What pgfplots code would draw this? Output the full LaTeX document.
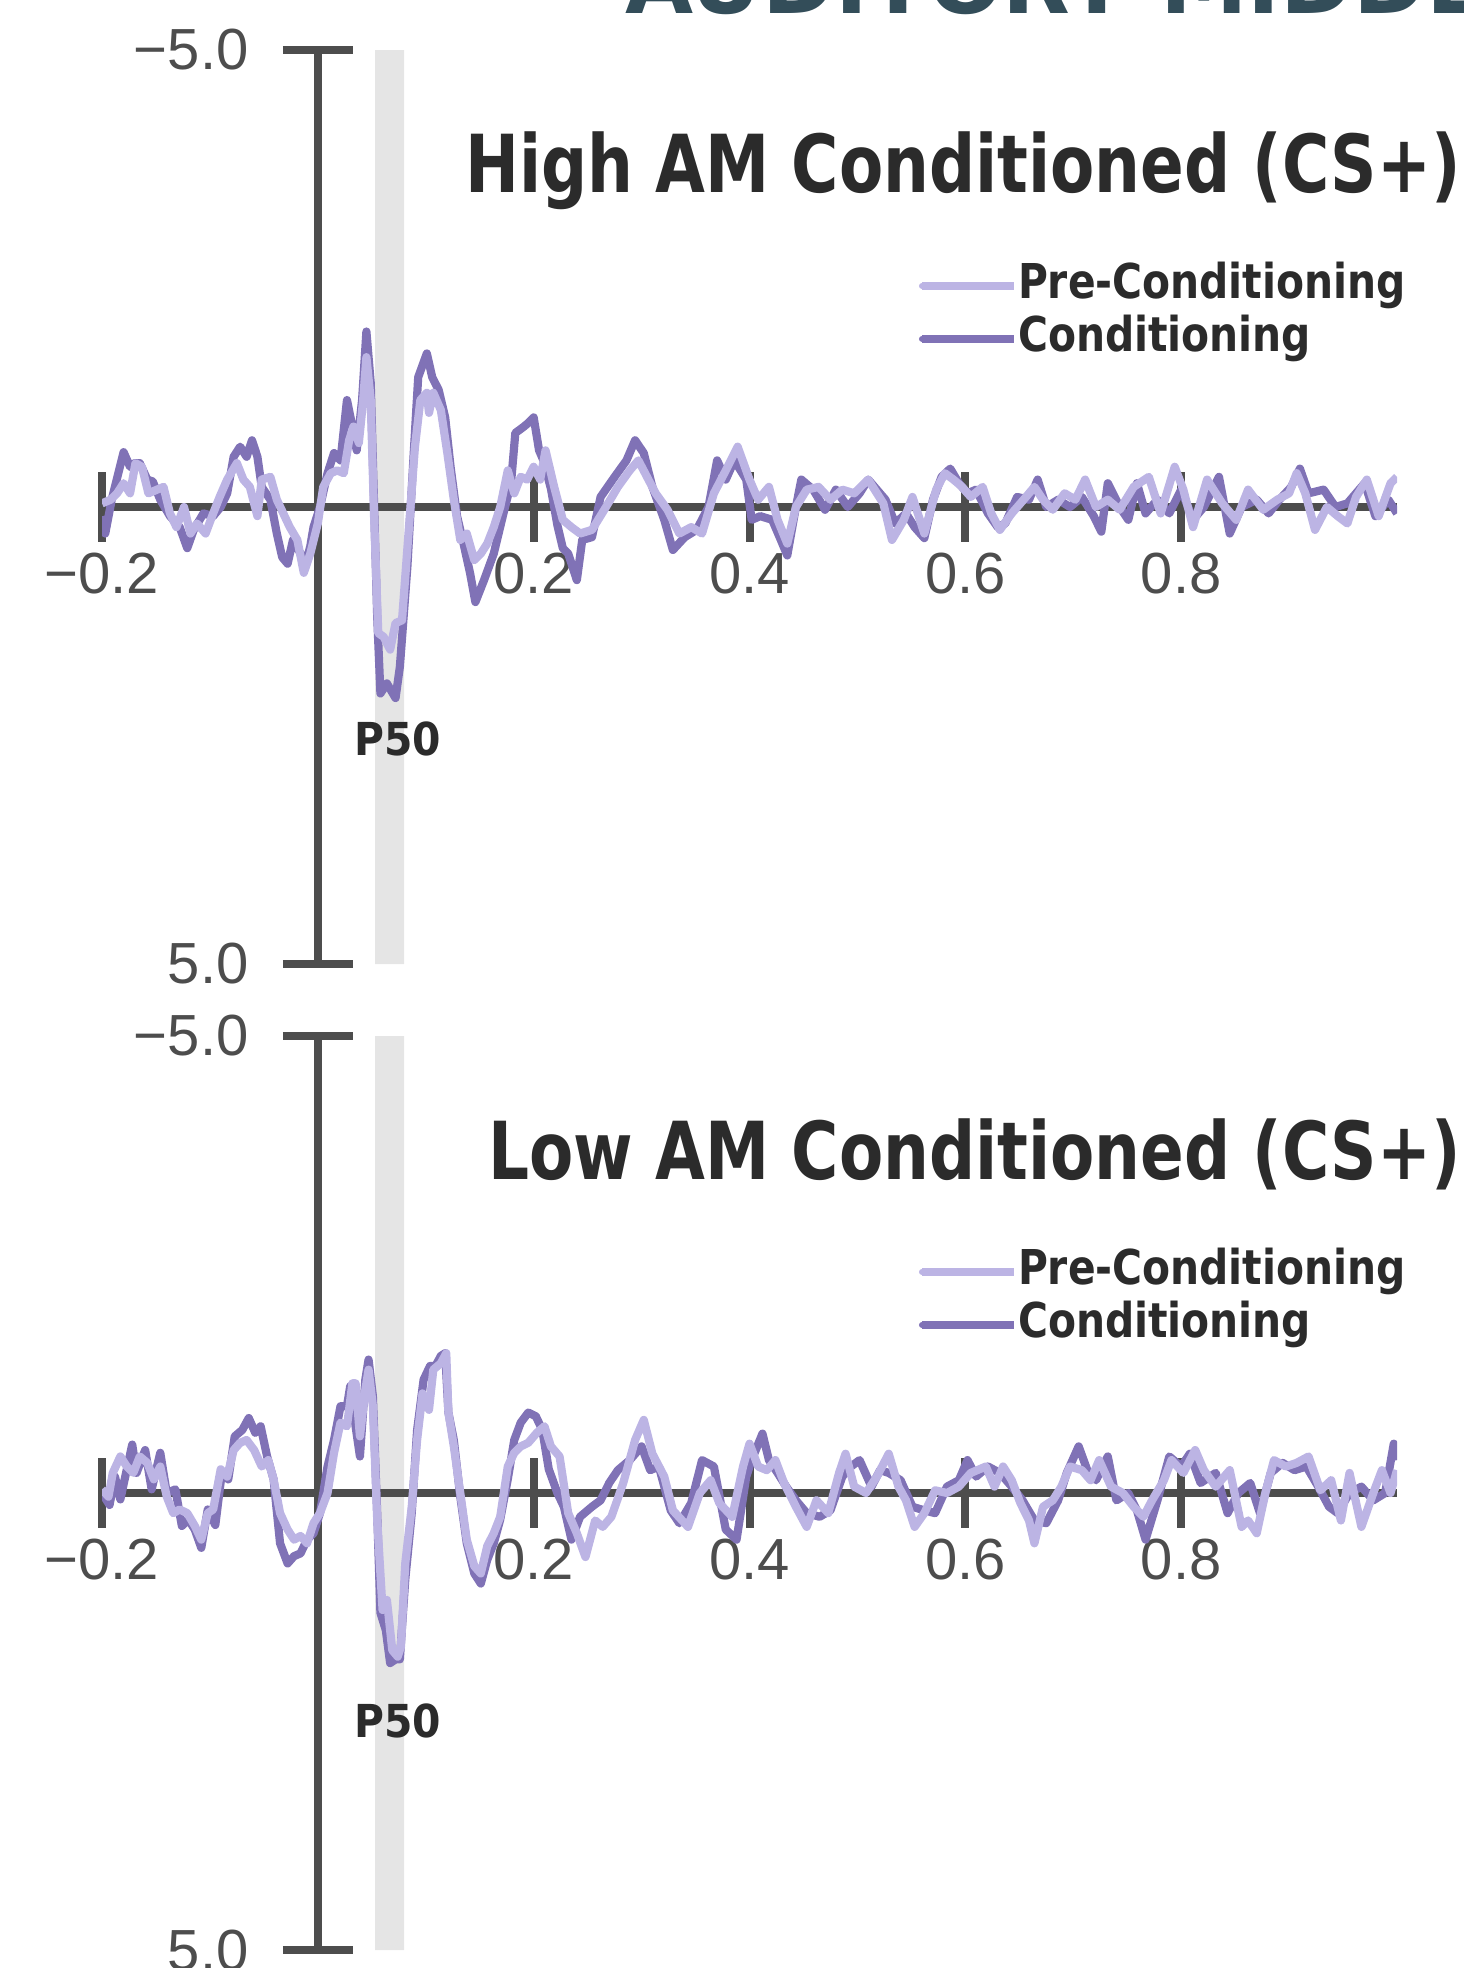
\documentclass[border=0pt]{standalone}
\usepackage{fontspec}
\setmainfont{Liberation Sans}
\newfontfamily\condb{DejaVu Sans Condensed}
\newfontfamily\dvb{DejaVu Sans}
\usepackage{pgfplots}
\pgfplotsset{compat=1.18}
\definecolor{axgray}{RGB}{77,77,77}
\definecolor{txt}{RGB}{43,43,43}
\definecolor{bandc}{RGB}{229,229,229}
\definecolor{pre}{RGB}{188,180,228}
\definecolor{cond}{RGB}{128,114,182}
\definecolor{slate}{RGB}{51,77,89}
\pgfplotsset{
  geom/.style={
    scale only axis, width=647.5pt, height=457pt,
    xmin=-0.2, xmax=1.0, ymin=-5, ymax=5, y dir=reverse,
  },
  erpaxis/.style={
    geom,
    axis lines=middle,
    axis line style={-, line width=4pt, draw=axgray},
    xtick={-0.2,0.2,0.4,0.6,0.8},
    xticklabels={−0.2,0.2,0.4,0.6,0.8},
    ytick={-5,5}, yticklabels={−5.0,5.0},
    tick align=center, major tick length=35pt,
    tick style={line width=4pt, draw=axgray},
    ticklabel style={font=\fontsize{29}{30}\selectfont, text=axgray, inner sep=0pt},
    xticklabel style={anchor=center, yshift=-16pt},
    yticklabel style={anchor=east, xshift=-17pt},
    legend style={draw=none, fill=none, at={(axis cs:0.556,-2.66)}, anchor=north west,
      inner sep=0pt, outer sep=0pt, row sep=4.5pt,
      font=\condb\bfseries\fontsize{24}{26}\selectfont, text=txt,
      nodes={inner sep=0pt, text height=17.5pt, text depth=4.5pt}},
    legend cell align=left,
    legend image code/.code={\draw[#1, line width=3pt, line cap=round] (0pt,0pt) -- (41pt,0pt); \path (0pt,0pt) -- (46pt,0pt);},
    every axis plot/.append style={line width=4.1pt, line join=round},
  }
}
\newcommand{\lgtxt}[1]{\scalebox{0.945}[1]{#1}}
\begin{document}
\begin{tikzpicture}
% main title (cut off at top)
\node[anchor=base west, inner sep=0pt, text=slate, font=\dvb\bfseries\fontsize{44}{48}\selectfont] at (312.5pt,-7pt) {AUDITORY MIDDLE LATENCY};

% ---------------- top panel ----------------
\begin{axis}[geom, hide axis, at={(51pt,-25pt)}, anchor=north west]
\addplot[draw=none, fill=bandc] coordinates {(0.053,-5) (0.08,-5) (0.08,5) (0.053,5) (0.053,-5)};
\end{axis}
\begin{axis}[erpaxis, at={(51pt,-25pt)}, anchor=north west]
\addlegendimage{pre}\addlegendentry{\lgtxt{Pre-Conditioning}}
\addlegendimage{cond}\addlegendentry{\lgtxt{Conditioning}}
\addplot[cond, forget plot] coordinates {
(-0.2,0.1) (-0.197,0.29) (-0.191,-0.08) (-0.18,-0.6) (-0.174,-0.44) (-0.17,-0.48) (-0.165,-0.48) (-0.158,-0.3) (-0.153,-0.28) (-0.146,-0.08) (-0.137,0.1) (-0.128,0.22) (-0.121,0.45) (-0.115,0.25) (-0.106,0.07) (-0.097,0.1) (-0.09,0) (-0.084,-0.15) (-0.078,-0.55) (-0.072,-0.66) (-0.066,-0.55) (-0.061,-0.73) (-0.056,-0.55) (-0.052,-0.22) (-0.044,-0.08) (-0.038,0.29) (-0.033,0.55) (-0.028,0.62) (-0.023,0.36) (-0.016,0.51) (-0.012,0.65) (-0.007,0.43) (-0.004,0.22) (0.002,0) (0.009,-0.37) (0.015,-0.59) (0.021,-0.51) (0.027,-1.17) (0.032,-0.88) (0.036,-0.62) (0.041,-1.17) (0.045,-1.92) (0.049,-1.36) (0.052,-0.08) (0.055,1.2) (0.058,2.04) (0.064,1.93) (0.072,2.09) (0.076,1.75) (0.083,0.65) (0.089,-0.62) (0.093,-1.42) (0.101,-1.68) (0.106,-1.42) (0.112,-1.28) (0.118,-0.98) (0.123,-0.44) (0.129,0.1) (0.135,0.4) (0.141,0.72) (0.146,1.04) (0.154,0.8) (0.163,0.51) (0.172,0.07) (0.179,-0.26) (0.183,-0.81) (0.191,-0.88) (0.195,-0.92) (0.2,-0.98) (0.205,-0.62) (0.209,-0.51) (0.216,-0.2) (0.222,0.2) (0.227,0.45) (0.232,0.51) (0.24,0.8) (0.245,0.36) (0.254,0.33) (0.262,-0.11) (0.275,-0.33) (0.286,-0.51) (0.294,-0.73) (0.302,-0.59) (0.31,-0.22) (0.321,0.14) (0.329,0.47) (0.34,0.33) (0.351,0.25) (0.362,0) (0.37,-0.51) (0.378,-0.3) (0.386,-0.51) (0.397,-0.3) (0.402,0.14) (0.41,0.1) (0.421,0.14) (0.429,0.36) (0.435,0.53) (0.443,0) (0.448,-0.3) (0.459,-0.19) (0.47,0.03) (0.48,-0.19) (0.491,0) (0.502,-0.15) (0.51,-0.3) (0.518,-0.19) (0.526,-0.08) (0.535,0.18) (0.545,0.07) (0.553,0.22) (0.562,0.34) (0.57,-0.08) (0.578,-0.33) (0.586,-0.42) (0.594,-0.26) (0.602,-0.15) (0.61,-0.19) (0.621,0.07) (0.63,0.22) (0.637,0.18) (0.648,-0.11) (0.659,-0.08) (0.667,-0.3) (0.675,0) (0.686,-0.08) (0.697,0) (0.708,-0.11) (0.719,0.1) (0.726,0.27) (0.732,-0.26) (0.743,0) (0.751,0.14) (0.759,-0.26) (0.767,0.07) (0.778,-0.08) (0.789,0.07) (0.8,-0.19) (0.811,0.14) (0.821,0) (0.835,-0.33) (0.845,0.29) (0.856,0) (0.87,-0.08) (0.881,0.07) (0.891,-0.08) (0.902,-0.22) (0.91,-0.42) (0.918,-0.15) (0.932,-0.19) (0.943,0) (0.954,-0.04) (0.97,-0.26) (0.98,0.1) (0.992,-0.08) (1.0,0.07)
};
\addplot[pre, forget plot] coordinates {
(-0.2,-0.04) (-0.192,-0.08) (-0.186,-0.15) (-0.18,-0.26) (-0.174,-0.15) (-0.169,-0.48) (-0.163,-0.44) (-0.157,-0.15) (-0.149,-0.19) (-0.143,-0.22) (-0.137,0.07) (-0.131,0.22) (-0.124,0) (-0.118,0.29) (-0.112,0.18) (-0.104,0.29) (-0.097,0.07) (-0.091,-0.11) (-0.084,-0.3) (-0.075,-0.48) (-0.069,-0.3) (-0.063,-0.22) (-0.056,0.1) (-0.052,-0.3) (-0.044,-0.33) (-0.038,-0.08) (-0.032,0.07) (-0.026,0.22) (-0.019,0.36) (-0.013,0.72) (-0.007,0.51) (0,0.18) (0.005,-0.22) (0.012,-0.37) (0.018,-0.4) (0.024,-0.37) (0.029,-0.73) (0.033,-0.88) (0.038,-0.7) (0.042,-1.17) (0.045,-1.64) (0.049,-1.17) (0.052,0.07) (0.056,1.38) (0.061,1.42) (0.067,1.56) (0.072,1.27) (0.078,1.24) (0.084,0.29) (0.09,-0.66) (0.095,-1.17) (0.101,-1.25) (0.103,-1.03) (0.107,-1.25) (0.114,-1.06) (0.12,-0.59) (0.126,-0.08) (0.132,0.36) (0.138,0.29) (0.145,0.58) (0.151,0.51) (0.157,0.4) (0.163,0.22) (0.169,0) (0.176,-0.4) (0.182,-0.15) (0.188,-0.33) (0.194,-0.3) (0.2,-0.44) (0.206,-0.3) (0.211,-0.62) (0.219,-0.22) (0.227,0.14) (0.235,0.22) (0.243,0.29) (0.254,0.25) (0.267,0) (0.278,-0.22) (0.289,-0.4) (0.297,-0.51) (0.305,-0.33) (0.313,-0.15) (0.324,0.03) (0.335,0.29) (0.346,0.22) (0.356,0.29) (0.367,-0.15) (0.378,-0.4) (0.389,-0.66) (0.4,-0.3) (0.408,-0.08) (0.418,-0.22) (0.426,0.14) (0.435,0.4) (0.443,0) (0.453,-0.19) (0.464,-0.22) (0.475,-0.08) (0.486,-0.19) (0.497,-0.15) (0.51,-0.3) (0.524,-0.04) (0.532,0.36) (0.543,0.14) (0.551,-0.11) (0.562,0.29) (0.573,-0.19) (0.581,-0.37) (0.589,-0.3) (0.597,-0.22) (0.605,-0.11) (0.616,-0.22) (0.624,0.07) (0.632,0.25) (0.643,0.07) (0.654,-0.08) (0.664,-0.22) (0.672,-0.08) (0.681,0.03) (0.692,-0.15) (0.702,-0.08) (0.711,-0.3) (0.721,0) (0.732,-0.08) (0.743,0.03) (0.756,-0.22) (0.77,-0.33) (0.781,0.07) (0.794,-0.44) (0.802,-0.19) (0.811,0.22) (0.824,-0.3) (0.838,-0.04) (0.851,0.14) (0.862,-0.19) (0.876,0.03) (0.889,-0.08) (0.9,-0.15) (0.907,-0.37) (0.915,-0.15) (0.924,0.25) (0.935,0) (0.945,0.1) (0.954,0.18) (0.962,-0.11) (0.972,-0.3) (0.983,0.1) (0.994,-0.26) (1.0,-0.33)
};
\end{axis}
\node[anchor=base east, inner sep=0pt, text=txt, font=\condb\bfseries\fontsize{40}{44}\selectfont] at (730.5pt,-96.5pt) {\scalebox{0.895}[1]{High AM Conditioned (CS+)}};
\node[anchor=base, inner sep=0pt, text=txt, font=\condb\bfseries\fontsize{22.7}{24}\selectfont] at (199pt,-377.5pt) {P50};

% ---------------- bottom panel ----------------
\begin{axis}[geom, hide axis, at={(51pt,-518pt)}, anchor=north west]
\addplot[draw=none, fill=bandc] coordinates {(0.053,-5) (0.08,-5) (0.08,5) (0.053,5) (0.053,-5)};
\end{axis}
\begin{axis}[erpaxis, at={(51pt,-518pt)}, anchor=north west]
\addlegendimage{pre}\addlegendentry{\lgtxt{Pre-Conditioning}}
\addlegendimage{cond}\addlegendentry{\lgtxt{Conditioning}}
\addplot[cond, forget plot] coordinates {
(-0.2,0) (-0.193,0.13) (-0.188,-0.18) (-0.183,0.07) (-0.179,-0.15) (-0.172,-0.53) (-0.168,-0.22) (-0.16,-0.47) (-0.154,-0.04) (-0.146,-0.44) (-0.14,0) (-0.132,-0.04) (-0.126,0.36) (-0.12,0.29) (-0.114,0.4) (-0.108,0.6) (-0.102,0.18) (-0.095,0.35) (-0.089,-0.22) (-0.083,-0.15) (-0.077,-0.62) (-0.07,-0.69) (-0.064,-0.82) (-0.058,-0.66) (-0.053,-0.73) (-0.047,-0.4) (-0.041,-0.15) (-0.035,0.55) (-0.028,0.77) (-0.022,0.69) (-0.016,0.66) (-0.01,0.51) (-0.004,0.44) (0.002,0.22) (0.009,-0.29) (0.015,-0.58) (0.021,-0.95) (0.027,-0.95) (0.03,-1.17) (0.035,-0.73) (0.039,-0.4) (0.044,-1.24) (0.047,-1.46) (0.051,-1.06) (0.055,0.22) (0.058,1.31) (0.063,1.5) (0.067,1.86) (0.072,1.82) (0.076,1.82) (0.081,0.95) (0.087,0.22) (0.092,-0.69) (0.098,-1.24) (0.104,-1.39) (0.109,-1.39) (0.114,-1.5) (0.118,-1.53) (0.121,-0.88) (0.126,-0.58) (0.132,0.04) (0.138,0.55) (0.145,0.88) (0.151,0.99) (0.157,0.73) (0.163,0.55) (0.169,0.29) (0.176,-0.15) (0.182,-0.58) (0.188,-0.77) (0.195,-0.88) (0.202,-0.84) (0.208,-0.69) (0.214,-0.26) (0.222,0) (0.228,0.15) (0.235,0.51) (0.243,0.26) (0.254,0.15) (0.262,0.08) (0.27,-0.11) (0.278,-0.25) (0.289,-0.36) (0.3,-0.51) (0.308,-0.25) (0.316,-0.29) (0.327,0.19) (0.335,0.33) (0.346,0.11) (0.356,-0.36) (0.367,-0.29) (0.378,0.4) (0.388,0.51) (0.397,-0.18) (0.402,-0.36) (0.412,-0.65) (0.418,-0.36) (0.426,-0.22) (0.434,-0.07) (0.443,0.08) (0.453,0.22) (0.465,0.26) (0.475,0.19) (0.486,-0.18) (0.494,-0.29) (0.502,-0.36) (0.513,-0.07) (0.521,-0.25) (0.529,-0.22) (0.54,-0.14) (0.551,0.15) (0.562,0.19) (0.572,0.22) (0.583,-0.07) (0.594,-0.14) (0.602,-0.36) (0.61,-0.18) (0.621,-0.29) (0.632,-0.22) (0.643,-0.07) (0.653,0.08) (0.664,0.3) (0.675,0.33) (0.686,0.08) (0.694,-0.22) (0.705,-0.51) (0.713,-0.25) (0.721,-0.14) (0.732,-0.4) (0.74,0.08) (0.751,0) (0.759,0.19) (0.767,0.51) (0.778,0.08) (0.789,-0.4) (0.8,-0.29) (0.808,-0.43) (0.818,-0.11) (0.832,-0.22) (0.843,0.22) (0.853,0) (0.864,-0.11) (0.873,0.22) (0.883,-0.22) (0.894,-0.33) (0.905,-0.25) (0.916,-0.29) (0.927,-0.07) (0.937,0.15) (0.945,0.22) (0.956,0) (0.967,-0.07) (0.978,0.08) (0.989,0) (0.997,-0.54) (1.0,-0.36)
};
\addplot[pre, forget plot] coordinates {
(-0.2,-0.04) (-0.194,0.04) (-0.19,-0.22) (-0.183,-0.4) (-0.177,-0.29) (-0.171,-0.22) (-0.165,-0.4) (-0.158,-0.33) (-0.152,-0.15) (-0.146,-0.29) (-0.14,0.04) (-0.134,0.22) (-0.128,0.18) (-0.121,0.22) (-0.114,0.36) (-0.108,0.51) (-0.102,0.22) (-0.097,0.18) (-0.09,-0.26) (-0.084,-0.18) (-0.078,-0.47) (-0.072,-0.55) (-0.066,-0.58) (-0.059,-0.47) (-0.052,-0.29) (-0.046,-0.36) (-0.041,-0.15) (-0.035,0.22) (-0.028,0.4) (-0.022,0.51) (-0.016,0.47) (-0.01,0.55) (-0.004,0.33) (0.002,0.22) (0.009,0) (0.015,-0.44) (0.021,-0.77) (0.027,-0.73) (0.032,-1.2) (0.035,-1.2) (0.039,-0.62) (0.044,-1.13) (0.047,-1.35) (0.051,-0.95) (0.055,0.29) (0.06,1.28) (0.064,1.17) (0.069,1.72) (0.074,1.79) (0.077,1.68) (0.081,0.77) (0.087,0.15) (0.092,-0.58) (0.097,-1.09) (0.103,-0.91) (0.107,-1.35) (0.114,-1.42) (0.119,-1.53) (0.121,-0.88) (0.126,-0.51) (0.132,0) (0.138,0.51) (0.145,0.8) (0.151,0.88) (0.157,0.58) (0.163,0.44) (0.169,0.26) (0.176,-0.29) (0.182,-0.44) (0.188,-0.51) (0.195,-0.55) (0.203,-0.66) (0.21,-0.73) (0.216,-0.51) (0.224,-0.4) (0.232,0.22) (0.24,0.44) (0.248,0.7) (0.257,0.3) (0.264,0.37) (0.272,0.26) (0.283,-0.11) (0.294,-0.58) (0.302,-0.8) (0.31,-0.43) (0.321,-0.18) (0.329,0.19) (0.343,0.37) (0.354,0) (0.364,-0.14) (0.372,0.11) (0.384,0.26) (0.394,-0.29) (0.4,-0.54) (0.408,-0.29) (0.416,-0.25) (0.424,-0.36) (0.432,-0.11) (0.443,0.15) (0.453,0.37) (0.462,0.08) (0.473,0.22) (0.483,-0.22) (0.489,-0.43) (0.497,-0.07) (0.508,0) (0.518,-0.18) (0.529,-0.43) (0.538,-0.07) (0.545,0.08) (0.553,0.37) (0.562,0.22) (0.572,-0.03) (0.583,0) (0.594,-0.07) (0.605,-0.22) (0.619,-0.29) (0.627,-0.07) (0.635,-0.29) (0.643,-0.14) (0.651,0.11) (0.659,0.3) (0.664,0.55) (0.672,0.15) (0.681,0.08) (0.689,-0.07) (0.697,-0.29) (0.708,-0.25) (0.716,-0.14) (0.724,-0.36) (0.735,-0.07) (0.746,0) (0.756,0.15) (0.765,0.26) (0.773,0.08) (0.784,-0.14) (0.791,-0.36) (0.802,-0.22) (0.813,-0.47) (0.821,-0.25) (0.832,-0.07) (0.845,-0.25) (0.856,0.37) (0.862,0.3) (0.87,0.44) (0.878,0) (0.886,-0.36) (0.897,-0.29) (0.907,-0.33) (0.918,-0.4) (0.929,-0.03) (0.939,-0.14) (0.948,0.3) (0.956,-0.22) (0.967,0.37) (0.978,0) (0.986,-0.25) (0.994,0) (1.0,-0.25)
};
\end{axis}
\node[anchor=base east, inner sep=0pt, text=txt, font=\condb\bfseries\fontsize{40}{44}\selectfont] at (730.5pt,-589.5pt) {\scalebox{0.895}[1]{Low AM Conditioned (CS+)}};
\node[anchor=base, inner sep=0pt, text=txt, font=\condb\bfseries\fontsize{22.7}{24}\selectfont] at (199pt,-868.5pt) {P50};
\pgfresetboundingbox
\useasboundingbox (0,0) rectangle (731.5pt,-984pt);
\end{tikzpicture}
\end{document}
